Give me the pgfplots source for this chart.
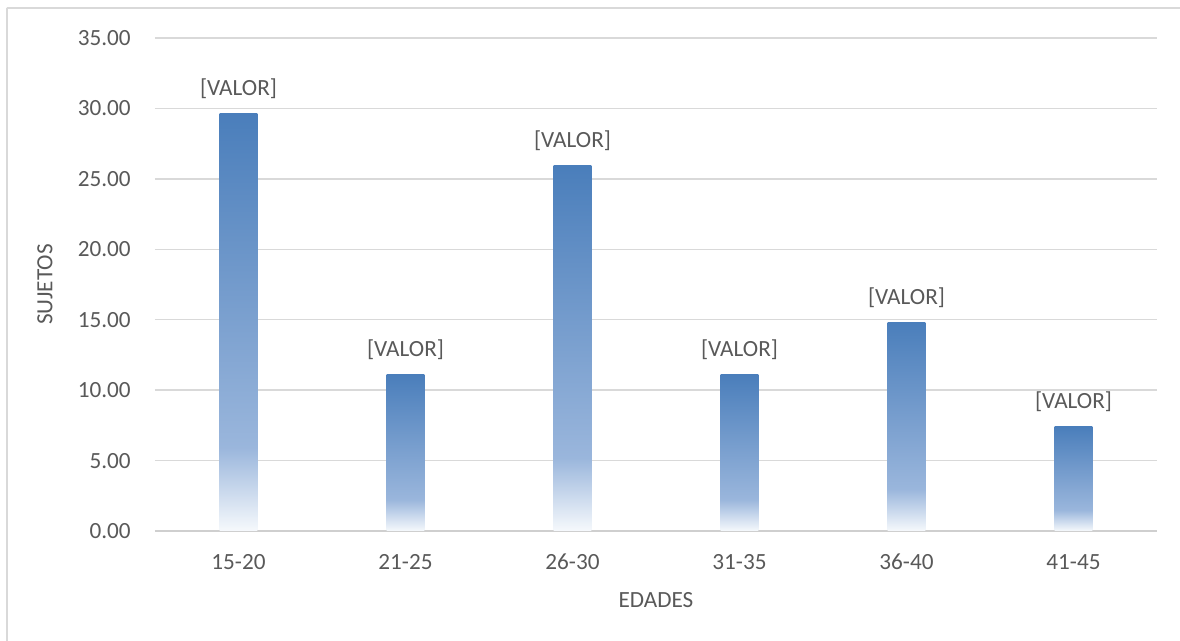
\documentclass[border=0pt]{standalone}
\usepackage{pgfplots}
\pgfplotsset{compat=1.18}
\usepackage{fontspec}
\setmainfont{Carlito}

\definecolor{txt}{HTML}{595959}
\definecolor{gridc}{HTML}{D9D9D9}
\definecolor{basec}{HTML}{CFCFCF}
\definecolor{frame}{HTML}{D9D9D9}
\definecolor{bartop}{HTML}{4A7EBB}
\definecolor{barmid}{HTML}{9AB6DC}
\definecolor{barbot}{HTML}{F6F9FC}

% Bar fill: deep blue at the top, lighter blue at 20% height, nearly white at the base.
% The path box is mapped onto 25bp..75bp of the shading.
\pgfdeclareverticalshading{barfade}{100bp}{%
  color(0bp)=(barbot); color(25bp)=(barbot); color(35bp)=(barmid);
  color(75bp)=(bartop); color(100bp)=(bartop)}

\begin{document}
\begin{tikzpicture}
\useasboundingbox (-116.25pt,-82.5pt) rectangle (768.75pt,398.25pt);
\draw[frame, line width=1.1pt] (-111pt,-90pt) rectangle (-111pt,392.25pt) -- (780pt,392.25pt);
\begin{axis}[
  scale only axis,
  width=751.5pt, height=369.75pt,
  font=\fontsize{17.4}{20}\selectfont\color{txt},
  xmin=-0.5, xmax=5.5,
  ymin=0, ymax=35,
  ytick={0,5,...,35},
  xtick={0,1,2,3,4,5},
  xticklabels={15-20,21-25,26-30,31-35,36-40,41-45},
  yticklabel={\pgfmathprintnumber[fixed,fixed zerofill,precision=2]{\tick}},
  /pgf/number format/assume math mode=true,
  major tick length=0pt,
  axis x line*=bottom,
  axis y line*=left,
  y axis line style={draw=none},
  x axis line style={draw=basec, line width=1.1pt},
  ymajorgrids,
  grid style={draw=gridc, line width=1.1pt},
  yticklabel style={anchor=east, inner sep=0pt, xshift=-18pt},
  xticklabel style={anchor=center, inner sep=0pt, yshift=-23.25pt},
  xlabel={EDADES},
  ylabel={SUJETOS},
  every axis x label/.style={at={(axis description cs:0.5,-0.140)}, anchor=center},
  every axis y label/.style={at={(axis description cs:-0.1098,0.5)}, anchor=center, rotate=90},
  ybar, bar width=0.225, bar shift=0pt,
  nodes near coords={{[}VALOR{]}},
  nodes near coords style={anchor=center, yshift=18.75pt, inner sep=0pt},
]
% one plot per age group so that every bar gets its own gradient
\addplot[draw=none, shading=barfade] coordinates {(0,29.63)};
\addplot[draw=none, shading=barfade] coordinates {(1,11.11)};
\addplot[draw=none, shading=barfade] coordinates {(2,25.93)};
\addplot[draw=none, shading=barfade] coordinates {(3,11.11)};
\addplot[draw=none, shading=barfade] coordinates {(4,14.81)};
\addplot[draw=none, shading=barfade] coordinates {(5,7.41)};
\end{axis}
\end{tikzpicture}
\end{document}
